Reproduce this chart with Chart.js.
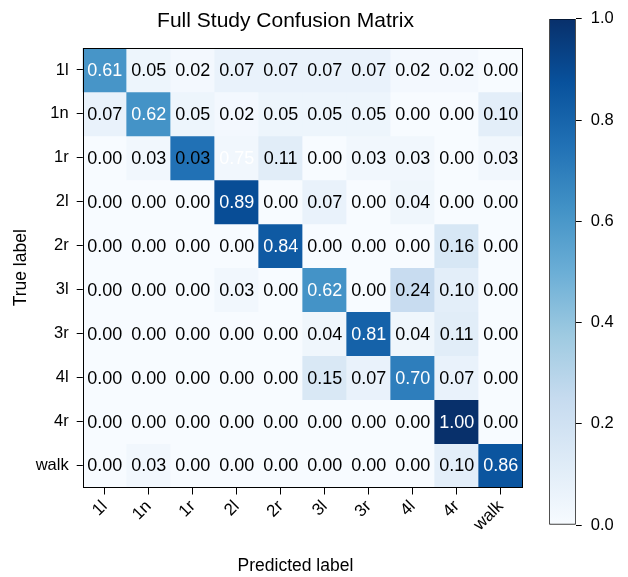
<!DOCTYPE html>
<html><head><meta charset="utf-8">
<script src="https://cdn.jsdelivr.net/npm/chart.js@4/dist/chart.umd.min.js"></script>
<style>
html,body{margin:0;padding:0;background:#fff;}
#wrap{position:relative;width:628px;height:577px;overflow:hidden;}
#main{position:absolute;left:0;top:0;}
#cbar{position:absolute;left:540px;top:0;}
</style></head><body>
<div id="wrap">
<canvas id="main" width="571" height="577"></canvas>
<canvas id="cbar" width="88" height="577"></canvas>
</div>
<script>
// ---- data ----
const categories = ['1l','1n','1r','2l','2r','3l','3r','4l','4r','walk'];
const trueLabels = ['1l','1n','1r','2l','2r','3l','3r','4l','4r','walk'];
// values that set each cell's colour (row = true label, column = predicted label)
const cellValues = [
  [0.61,0.05,0.02,0.07,0.07,0.07,0.07,0.02,0.02,0.00],
  [0.07,0.62,0.05,0.02,0.05,0.05,0.05,0.00,0.00,0.10],
  [0.00,0.03,0.75,0.03,0.11,0.00,0.03,0.03,0.00,0.03],
  [0.00,0.00,0.00,0.89,0.00,0.07,0.00,0.04,0.00,0.00],
  [0.00,0.00,0.00,0.00,0.84,0.00,0.00,0.00,0.16,0.00],
  [0.00,0.00,0.00,0.03,0.00,0.62,0.00,0.24,0.10,0.00],
  [0.00,0.00,0.00,0.00,0.00,0.04,0.81,0.04,0.11,0.00],
  [0.00,0.00,0.00,0.00,0.00,0.15,0.07,0.70,0.07,0.00],
  [0.00,0.00,0.00,0.00,0.00,0.00,0.00,0.00,1.00,0.00],
  [0.00,0.03,0.00,0.00,0.00,0.00,0.00,0.00,0.10,0.86]
];
// numbers printed in each cell (as shown in the picture)
const cellText = [
  [0.61,0.05,0.02,0.07,0.07,0.07,0.07,0.02,0.02,0.00],
  [0.07,0.62,0.05,0.02,0.05,0.05,0.05,0.00,0.00,0.10],
  [0.00,0.03,0.03,0.75,0.11,0.00,0.03,0.03,0.00,0.03],
  [0.00,0.00,0.00,0.89,0.00,0.07,0.00,0.04,0.00,0.00],
  [0.00,0.00,0.00,0.00,0.84,0.00,0.00,0.00,0.16,0.00],
  [0.00,0.00,0.00,0.03,0.00,0.62,0.00,0.24,0.10,0.00],
  [0.00,0.00,0.00,0.00,0.00,0.04,0.81,0.04,0.11,0.00],
  [0.00,0.00,0.00,0.00,0.00,0.15,0.07,0.70,0.07,0.00],
  [0.00,0.00,0.00,0.00,0.00,0.00,0.00,0.00,1.00,0.00],
  [0.00,0.03,0.00,0.00,0.00,0.00,0.00,0.00,0.10,0.86]
];
const colorbarTicks = [0.0,0.2,0.4,0.6,0.8,1.0];

// ---- style ----
const FONT = '"Liberation Sans", Arial, Helvetica, sans-serif';
const BLUES = [[247,251,255],[222,235,247],[198,219,239],[158,202,225],[107,174,214],[66,146,198],[33,113,181],[8,81,156],[8,48,107]];
function blues(v){
  v = Math.max(0, Math.min(1, v));
  const p = v * (BLUES.length - 1);
  const i = Math.min(Math.floor(p), BLUES.length - 2);
  const t = p - i;
  const a = BLUES[i], b = BLUES[i+1];
  const c = a.map((x, k) => Math.round(x + (b[k] - x) * t));
  return `rgb(${c[0]},${c[1]},${c[2]})`;
}

const datasets = trueLabels.map((rl, r) => ({
  label: rl,
  data: categories.map(() => [r - 0.5, r + 0.5]),
  backgroundColor: cellValues[r].map(blues),
  borderWidth: 0,
  grouped: false,
  barPercentage: 1,
  categoryPercentage: 1
}));

const cellTextPlugin = {
  id: 'cellText',
  afterDatasetsDraw(chart) {
    const {ctx, scales: {x, y}} = chart;
    ctx.save();
    ctx.font = '18px ' + FONT;
    ctx.textAlign = 'center';
    ctx.textBaseline = 'middle';
    cellText.forEach((row, r) => row.forEach((v, c) => {
      ctx.fillStyle = v > 0.5 ? '#ffffff' : '#000000';
      ctx.fillText(v.toFixed(2), x.getPixelForValue(c), y.getPixelForValue(r) + 1);
    }));
    ctx.restore();
  },
  afterDraw(chart) {
    const {ctx, chartArea: a} = chart;
    ctx.save();
    ctx.strokeStyle = '#000';
    ctx.lineWidth = 1;
    ctx.strokeRect(Math.round(a.left) + 0.5, Math.round(a.top) + 0.5, Math.round(a.width) - 1, Math.round(a.height) - 1);
    ctx.restore();
  }
};

new Chart(document.getElementById('main'), {
  type: 'bar',
  data: { labels: categories, datasets },
  options: {
    responsive: false, animation: false, devicePixelRatio: 1, events: [],
    layout: { padding: 0 },
    plugins: {
      legend: { display: false },
      tooltip: { enabled: false },
      title: {
        display: true, text: 'Full Study Confusion Matrix', color: '#000',
        font: { family: FONT, size: 21, weight: 'normal' },
        padding: { top: 8.4, bottom: 14.4 }
      }
    },
    scales: {
      x: {
        type: 'category', offset: true,
        grid: { offset: false, drawOnChartArea: false, tickLength: 7, color: '#000', tickWidth: 1 },
        border: { display: false },
        ticks: { color: '#000', font: { family: FONT, size: 17 }, minRotation: 45, maxRotation: 45, autoSkip: false, padding: 2 },
        title: { display: true, text: 'Predicted label   ', color: '#000', font: { family: FONT, size: 17.5 }, padding: { top: 0, bottom: 0.5 } },
        afterFit(s) { s.height = 89.5; }
      },
      y: {
        type: 'linear', min: -0.5, max: 9.5, reverse: true,
        afterBuildTicks(s) { s.ticks = trueLabels.map((_, i) => ({ value: i })); },
        grid: { drawOnChartArea: false, tickLength: 6, color: '#000', tickWidth: 1 },
        border: { display: false },
        ticks: { color: '#000', font: { family: FONT, size: 16.5 }, padding: 8, autoSkip: false, callback: (v) => trueLabels[v] },
        title: { display: true, text: 'True label', color: '#000', font: { family: FONT, size: 17.5 }, padding: { top: 11, bottom: 0 } },
        afterFit(s) { s.width = 82.7; }
      },
      gap: {
        type: 'linear', position: 'right', display: true,
        grid: { display: false }, border: { display: false }, ticks: { display: false },
        afterFit(s) { s.width = 48.3; }
      }
    }
  },
  plugins: [cellTextPlugin]
});

new Chart(document.getElementById('cbar'), {
  type: 'bar',
  data: {
    labels: [''],
    datasets: [{
      data: [[0, 1]],
      backgroundColor(context) {
        const chart = context.chart;
        const ys = chart.scales.y;
        if (!ys || !chart.chartArea) return blues(0.5);
        const g = chart.ctx.createLinearGradient(0, ys.getPixelForValue(0), 0, ys.getPixelForValue(1));
        BLUES.forEach((c, i) => g.addColorStop(i / (BLUES.length - 1), `rgb(${c[0]},${c[1]},${c[2]})`));
        return g;
      },
      borderColor: '#000', borderWidth: 1, borderSkipped: false,
      barPercentage: 1, categoryPercentage: 1
    }]
  },
  options: {
    responsive: false, animation: false, devicePixelRatio: 1, events: [],
    layout: { padding: { left: 9.3, right: 0, top: 10, bottom: 52 } },
    plugins: { legend: { display: false }, tooltip: { enabled: false } },
    scales: {
      x: { display: false },
      y: {
        position: 'right', min: 0, max: 1,
        afterBuildTicks(s) { s.ticks = colorbarTicks.map(v => ({ value: v })); },
        grid: { drawOnChartArea: false, tickLength: 6, color: '#000' },
        border: { display: false },
        ticks: { color: '#000', font: { family: FONT, size: 16.5 }, padding: 9, callback: (v) => Number(v).toFixed(1) },
        afterFit(s) { s.width = 52.3; }
      }
    }
  }
});
</script>
</body></html>
